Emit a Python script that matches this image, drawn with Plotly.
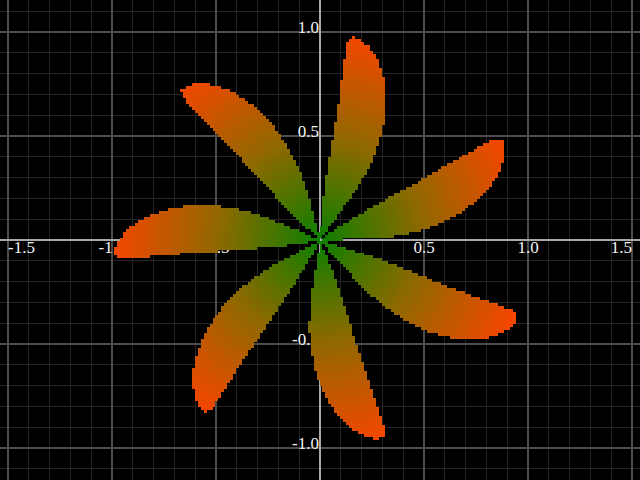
import numpy as np
import plotly.graph_objects as go

# petal tips (degrees) and their lengths
tip_angles = [80.4, 132.4, 184.0, 235.8, 287.2, 338.1, 28.6]
tip_lengths = [0.99, 0.98, 0.99, 0.995, 0.995, 1.02, 1.0]

# petal profile: angular edges (deg, relative to tip) along the radius
profile_r = [0.00, 0.05, 0.15, 0.30, 0.45, 0.55, 0.65, 0.75, 0.85, 0.92, 0.97, 1.00]
profile_ccw = [6.0, 6.0, 5.0, 3.5, 2.5, 2.0, 1.8, 1.8, 1.8, 1.8, 1.6, 0.5]
profile_cw = [-27.0, -27.0, -27.0, -26.5, -24.0, -21.5, -19.0, -15.5, -11.5, -8.0, -4.5, -1.5]

tick_x = [-1.5, -1.0, -0.5, 0.5, 1.0, 1.5]
tick_x_text = ['-1.5', '-1.0', '-0.5', '0.5', '1.0', '1.5']
tick_y = [-1.0, -0.5, 0.5, 1.0]
tick_y_text = ['-1.0', '-0.5', '0.5', '1.0']

x_half = 320 / 208
y_half = 240 / 208

# raster of the flower, coloured by distance from the centre
step = 1 / 70
gx = np.arange(-x_half, x_half + step, step)
gy = np.arange(-y_half, y_half + step, step)
X, Y = np.meshgrid(gx, gy)
R = np.hypot(X, Y)
TH = np.degrees(np.arctan2(Y, X))
Z = np.full(R.shape, np.nan)
for ang, length in zip(tip_angles, tip_lengths):
    rr = R / length
    d = (TH - ang + 180) % 360 - 180
    lo = np.interp(rr, profile_r, profile_cw)
    hi = np.interp(rr, profile_r, profile_ccw)
    inside = (rr <= profile_r[-1]) & (d >= lo) & (d <= hi)
    Z[inside] = R[inside]

label_font = dict(family='Liberation Serif', size=17, color='#f2f2f2')

fig = go.Figure()
fig.add_trace(go.Scatter(x=tick_x, y=[0] * len(tick_x), mode='text', text=tick_x_text,
                         textposition=['bottom right'] + ['bottom center'] * 4 + ['bottom left'],
                         textfont=label_font, hoverinfo='skip'))
fig.add_trace(go.Heatmap(x=gx, y=gy, z=Z, zmin=0, zmax=1,
                         colorscale=[[0, 'rgb(10,128,0)'], [0.5, 'rgb(145,104,0)'],
                                     [1, 'rgb(245,70,0)']],
                         showscale=False, xaxis='x2', yaxis='y2', hoverinfo='skip'))

grid_style = dict(showgrid=True, gridcolor='#4d4d4d', gridwidth=1.5,
                  zeroline=True, zerolinecolor='#a8a8a8', zerolinewidth=2,
                  minor=dict(tick0=0, dtick=0.1, showgrid=True, gridcolor='#242424', gridwidth=1),
                  ticks='', fixedrange=True, layer='below traces')

fig.update_layout(
    width=640, height=480,
    margin=dict(l=0, r=0, t=0, b=0),
    paper_bgcolor='black', plot_bgcolor='black',
    showlegend=False,
    xaxis=dict(range=[-x_half, x_half], tick0=0, dtick=0.5, showticklabels=False, **grid_style),
    yaxis=dict(range=[-y_half, y_half], tickmode='array', tickvals=tick_y, ticktext=tick_y_text,
               anchor='free', position=0.5, tickfont=label_font, ticklabelshift=-5,
               ticklabelstandoff=1, **grid_style),
    xaxis2=dict(range=[-x_half, x_half], overlaying='x', visible=False, fixedrange=True),
    yaxis2=dict(range=[-y_half, y_half], overlaying='y', visible=False, fixedrange=True),
)

fig.write_html("out.html", config={'displayModeBar': False},
               post_script="document.body.style.margin='0';document.body.style.background='black';")
